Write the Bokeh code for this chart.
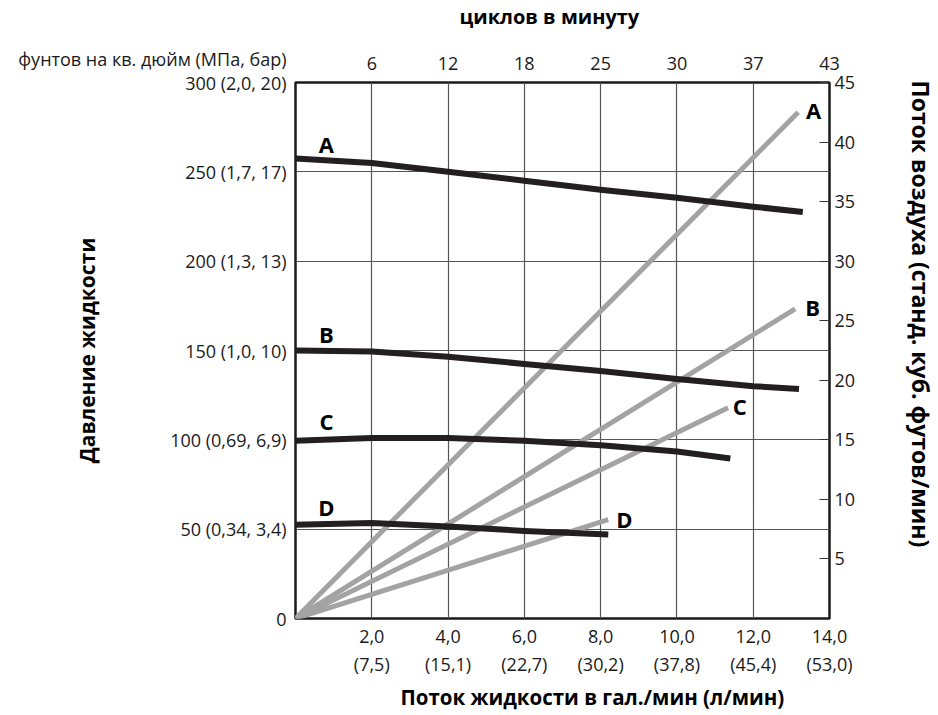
from bokeh.plotting import figure
from bokeh.models import Range1d, LinearAxis, FixedTicker, ColumnDataSource, Title
from bokeh.embed import file_html
from bokeh.resources import INLINE
from bokeh.core.properties import value

FONT = "Open Sans"

# ---- data ----
# fluid pressure (psi) vs fluid flow (gpm) -- black curves
a_flow = [0, 2, 4, 6, 8, 10, 12, 13.3]
a_pressure = [257.5, 255, 250, 245, 240, 235.5, 230.5, 227.5]
b_flow = [0, 2, 4, 6, 8, 10, 12, 13.2]
b_pressure = [150, 149.5, 146.5, 142.5, 138.5, 134, 130, 128.5]
c_flow = [0, 2, 4, 6, 8, 10, 11.4]
c_pressure = [99.5, 101, 101, 99.5, 97, 93.5, 89.5]
d_flow = [0, 2, 4, 6, 8.2]
d_pressure = [52.5, 53.5, 51.5, 49, 47]

# air consumption (scfm) vs fluid flow (gpm) -- gray lines
a_air_flow = [0, 13.18]
a_air = [0, 42.5]
b_air_flow = [0, 13.1]
b_air = [0, 26.0]
c_air_flow = [0, 11.34]
c_air = [0, 17.7]
d_air_flow = [0, 8.2]
d_air = [0, 8.3]

curve_names = ["A", "B", "C", "D"]

flow_ticks = [2, 4, 6, 8, 10, 12, 14]
flow_gpm_labels = ["2,0", "4,0", "6,0", "8,0", "10,0", "12,0", "14,0"]
flow_lpm_labels = ["(7,5)", "(15,1)", "(22,7)", "(30,2)", "(37,8)", "(45,4)", "(53,0)"]
cycle_labels = ["6", "12", "18", "25", "30", "37", "43"]
pressure_ticks = [0, 50, 100, 150, 200, 250, 300]
pressure_labels = ["0", "50 (0,34, 3,4)", "100 (0,69, 6,9)", "150 (1,0, 10)",
                   "200 (1,3, 13)", "250 (1,7, 17)", "300 (2,0, 20)"]
pressure_unit = "фунтов на кв. дюйм (МПа, бар)"
air_ticks = [5, 10, 15, 20, 25, 30, 35, 40, 45]
grid_x = [2, 4, 6, 8, 10, 12]
grid_y = [50, 100, 150, 200, 250]

# label positions (annotation text)
left_label_x = [0.81, 0.81, 0.81, 0.81]
left_label_y = [265.4, 159.2, 110.8, 62.6]
right_label_x = [13.58, 13.56, 11.65, 8.62]
right_label_y = [284.4, 174.5, 119.2, 55.9]

W, H = 938, 712
p = figure(width=W, height=H, output_backend="svg", toolbar_location=None,
           x_range=Range1d(0, 14), y_range=Range1d(0, 300),
           min_border_left=295, min_border_right=105, min_border_top=82, min_border_bottom=92)
p.extra_y_ranges = {"air": Range1d(0, 45)}
p.background_fill_color = "white"
p.border_fill_color = "white"
p.outline_line_color = "#1a1a1a"
p.outline_line_width = 2.5

LBL = "18px"

def style_axis(ax):
    ax.axis_line_color = None
    ax.major_tick_line_color = None
    ax.minor_tick_line_color = None
    ax.major_label_text_font = FONT
    ax.major_label_text_font_size = LBL
    ax.major_label_text_color = "#1a1a1a"

def spacer(side, gap, pos):
    # an axis with one invisible tick and an empty label: it only reserves room in a side panel
    ax = LinearAxis(ticker=FixedTicker(ticks=[pos]), axis_line_color=None,
                    major_tick_line_color="white", major_tick_line_alpha=0.01,
                    major_tick_in=0, major_tick_out=gap,
                    minor_tick_line_color=None, minor_tick_out=0,
                    major_label_standoff=0, major_label_overrides={pos: ""},
                    major_label_text_font_size="1px")
    p.add_layout(ax, side)

def side_title(text, side, offset, size, standoff=0):
    t = Title(text=text, align="left", offset=offset, standoff=standoff,
              text_font=FONT, text_font_size=size, text_font_style="bold",
              text_color="black")
    p.add_layout(t, side)

# bottom axis 1 (gpm)
xb = p.xaxis[0]
xb.ticker = FixedTicker(ticks=flow_ticks)
xb.major_label_overrides = dict(zip(flow_ticks, flow_gpm_labels))
style_axis(xb)
xb.major_label_standoff = 5

# bottom axis 2 (l/min)
xb2 = LinearAxis(ticker=FixedTicker(ticks=flow_ticks),
                 major_label_overrides=dict(zip(flow_ticks, flow_lpm_labels)))
style_axis(xb2)
xb2.major_label_standoff = 0
p.add_layout(xb2, "below")
side_title("Поток жидкости в гал./мин (л/мин)", "below", 105, "20.5px", standoff=4)

# top axis (cycles/min)
xt = LinearAxis(ticker=FixedTicker(ticks=flow_ticks),
                major_label_overrides=dict(zip(flow_ticks, cycle_labels)))
style_axis(xt)
xt.major_label_standoff = 7
p.add_layout(xt, "above")
spacer("above", 24, 7)
side_title("циклов в минуту", "above", 164, "20px")

# left axis (pressure) -- the unit caption sits above the top tick label
left_labels = list(pressure_labels)
left_labels[-1] = pressure_unit + "\n" + pressure_labels[-1] + "\n\u00a0"
yl = p.yaxis[0]
yl.ticker = FixedTicker(ticks=pressure_ticks)
yl.major_label_overrides = dict(zip(pressure_ticks, left_labels))
style_axis(yl)
yl.major_label_standoff = 3
yl.major_label_text_line_height = 1.0
yl.axis_label = "Давление жидкости"
yl.axis_label_text_font = FONT
yl.axis_label_text_font_size = "21px"
yl.axis_label_text_font_style = "bold"
yl.axis_label_text_color = "black"
yl.axis_label_standoff = -86

# right axis (air)
yr = LinearAxis(y_range_name="air", ticker=FixedTicker(ticks=air_ticks))
style_axis(yr)
yr.major_tick_line_color = "#333333"
yr.major_tick_line_width = 1
yr.major_tick_in = 10
yr.major_tick_out = 0
yr.major_label_standoff = 5
p.add_layout(yr, "right")
spacer("right", 46, 150)
side_title("Поток воздуха (станд. куб. футов/мин)", "right", -2, "23px")

# grids
p.xgrid.ticker = FixedTicker(ticks=grid_x)
p.ygrid.ticker = FixedTicker(ticks=grid_y)
for g in (p.xgrid[0], p.ygrid[0]):
    g.grid_line_color = "#555555"
    g.grid_line_width = 1.2

# gray air lines
GRAY = "#a3a3a3"
for xs, ys in [(a_air_flow, a_air), (b_air_flow, b_air), (c_air_flow, c_air), (d_air_flow, d_air)]:
    p.line(xs, ys, y_range_name="air", line_color=GRAY, line_width=5, line_cap="butt")

# black pressure curves
BLACK = "#231f20"
for xs, ys in [(a_flow, a_pressure), (b_flow, b_pressure), (c_flow, c_pressure), (d_flow, d_pressure)]:
    p.line(xs, ys, line_color=BLACK, line_width=6, line_cap="butt", line_join="round")

# curve letters
src_l = ColumnDataSource(dict(x=left_label_x, y=left_label_y, t=curve_names))
src_r = ColumnDataSource(dict(x=right_label_x, y=right_label_y, t=curve_names))
for src in (src_l, src_r):
    p.text(x="x", y="y", text="t", source=src, text_font=value(FONT),
           text_font_style="bold", text_font_size="22px", text_align="center",
           text_baseline="middle", text_color="black")

open("out.html", "w").write(file_html(p, INLINE))
